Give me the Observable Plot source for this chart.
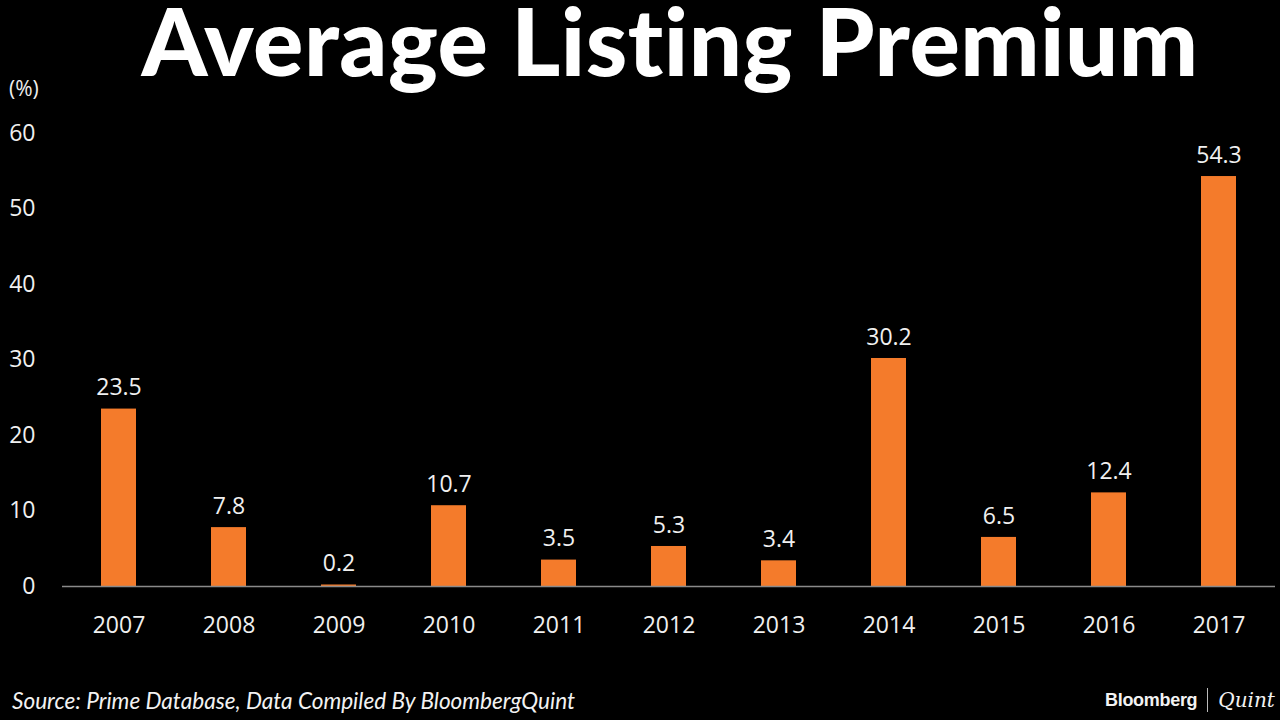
<!DOCTYPE html>
<html>
<head>
<meta charset="utf-8">
<script src="https://cdn.jsdelivr.net/npm/d3@7"></script>
<script src="https://cdn.jsdelivr.net/npm/@observablehq/plot@0.6"></script>
<style>
  html, body { margin: 0; padding: 0; background: #000; width: 1280px; height: 720px; overflow: hidden; }
  body { position: relative; font-family: "Open Sans", sans-serif; color: #fff; }
  #title { position: absolute; left: 60px; top: 0px; width: 1220px; text-align: center; font-family: Lato, sans-serif; font-weight: 900; font-size: 94px; line-height: 80px; color: #fff; font-variant-ligatures: none; font-feature-settings: "liga" 0; letter-spacing: 0.5px; white-space: nowrap; }
  #unit { position: absolute; left: 9px; top: 74px; font-size: 21px; color: #eee; }
  #chart { position: absolute; left: 0; top: 100px; }
  #source { position: absolute; left: 12px; top: 687px; font-family: Lato, sans-serif; font-style: italic; font-size: 22.6px; color: #f2f2f2; }
  #logo { position: absolute; left: 1105px; top: 688px; display: flex; align-items: center; color: #f2f2f2; }
  #logo .b { font-family: "Liberation Sans", Arial, sans-serif; font-weight: bold; font-size: 18px; letter-spacing: -0.3px; }
  #logo .sep { width: 1px; height: 24px; background: #bbb; margin: 0 10px 0 10px; }
  #logo .q { font-family: "DejaVu Serif", "Liberation Serif", serif; font-style: italic; font-size: 20px; }
</style>
</head>
<body>
<div id="title">Average Listing Premium</div>
<div id="unit">(%)</div>
<div id="chart"></div>
<div id="source">Source: Prime Database, Data Compiled By BloombergQuint</div>
<div id="logo"><span class="b">Bloomberg</span><span class="sep"></span><span class="q">Quint</span></div>
<script>
const years = ["2007","2008","2009","2010","2011","2012","2013","2014","2015","2016","2017"];
const premium = [23.5, 7.8, 0.2, 10.7, 3.5, 5.3, 3.4, 30.2, 6.5, 12.4, 54.3];
const yTicks = [0, 10, 20, 30, 40, 50, 60];

const data = years.map((y, i) => ({year: y, value: premium[i]}));

const chart = Plot.plot({
  width: 1280,
  height: 560,
  marginTop: 33,
  marginBottom: 74,
  marginLeft: 62,
  marginRight: 5,
  style: { background: "#000", color: "#f0f0f0", fontFamily: "'Open Sans', sans-serif", fontSize: "23px" },
  x: { domain: years, padding: 0.68, paddingOuter: 0.34, label: null, tickSize: 0, tickPadding: 30 },
  y: { domain: [0, 60], ticks: yTicks, label: null, tickSize: 0, tickPadding: 27 },
  marks: [
    Plot.barY(data, { x: "year", y: "value", fill: "#F47B2B" }),
    Plot.ruleY([0], { stroke: "#8a8a8a", strokeWidth: 1.5 }),
    Plot.text(data, { x: "year", y: "value", text: d => d.value.toFixed(1), dy: -21, fill: "#f0f0f0", fontSize: 23 })
  ]
});
document.getElementById("chart").appendChild(chart);
</script>
</body>
</html>
